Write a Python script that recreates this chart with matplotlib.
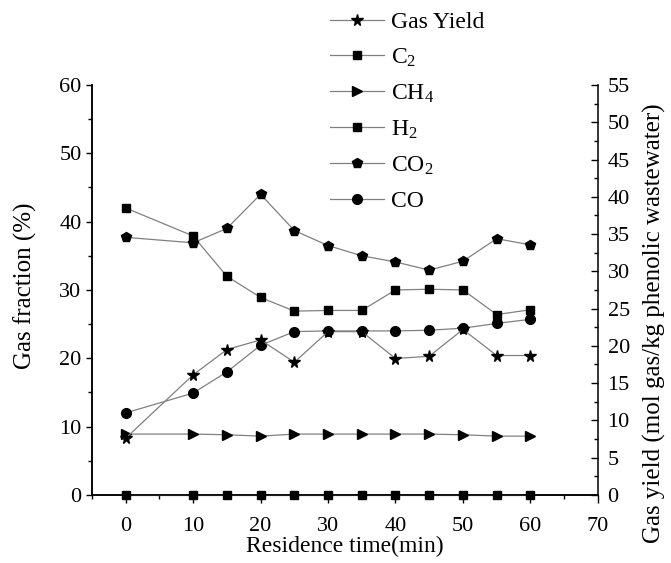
import matplotlib
matplotlib.use("Agg")
import matplotlib.pyplot as plt
from matplotlib.ticker import MultipleLocator

plt.rcParams['font.family'] = ['Liberation Serif', 'DejaVu Serif']
plt.rcParams['mathtext.fontset'] = 'custom'
plt.rcParams['mathtext.rm'] = 'Liberation Serif'
plt.rcParams['mathtext.it'] = 'Liberation Serif:italic'

time_min = [0, 10, 15, 20, 25, 30, 35, 40, 45, 50, 55, 60]
gas_yield = [7.6, 16.1, 19.5, 20.8, 17.8, 21.9, 21.9, 18.3, 18.6, 22.2, 18.7, 18.7]
c2 = [0, 0, 0, 0, 0, 0, 0, 0, 0, 0, 0, 0]
ch4 = [8.9, 8.9, 8.8, 8.6, 8.9, 8.9, 8.9, 8.9, 8.9, 8.8, 8.6, 8.6]
h2 = [42.0, 37.9, 32.0, 28.9, 26.9, 27.0, 27.0, 30.0, 30.1, 30.0, 26.4, 27.1]
co2 = [37.7, 36.9, 39.0, 44.0, 38.7, 36.5, 35.0, 34.1, 32.9, 34.2, 37.5, 36.6]
co = [12.0, 14.9, 18.0, 21.9, 23.9, 24.0, 24.0, 24.0, 24.1, 24.4, 25.1, 25.7]

labels = ['Gas Yield', 'C$_2$', 'CH$_4$', 'H$_2$', 'CO$_2$', 'CO']

fig = plt.figure(figsize=(6.71, 5.63), dpi=100)
ax = fig.add_axes([0.137, 0.121, 0.754, 0.728])
ax2 = ax.twinx()

lc = '#808080'
lw = 0.9
kw = dict(color=lc, lw=lw, markerfacecolor='black', markeredgecolor='black', clip_on=False)

l_c2, = ax.plot(time_min, c2, marker='s', ms=5.5, zorder=5, **kw)
l_ch4, = ax.plot(time_min, ch4, marker='>', ms=7.5, **kw)
l_h2, = ax.plot(time_min, h2, marker='s', ms=6, **kw)
l_co2, = ax.plot(time_min, co2, marker='p', ms=7.5, **kw)
l_co, = ax.plot(time_min, co, marker='o', ms=7, **kw)
l_gy, = ax2.plot(time_min, gas_yield, marker='*', ms=8.5, **kw)

ax.set_xlim(-5, 70)
ax.set_ylim(0, 60)
ax2.set_ylim(0, 55)

ax.xaxis.set_major_locator(MultipleLocator(10))
ax.xaxis.set_minor_locator(MultipleLocator(5))
ax.yaxis.set_major_locator(MultipleLocator(10))
ax.yaxis.set_minor_locator(MultipleLocator(5))
ax2.yaxis.set_major_locator(MultipleLocator(5))
ax2.yaxis.set_minor_locator(MultipleLocator(2.5))

for a in (ax, ax2):
    a.spines['top'].set_visible(False)
    for s in a.spines.values():
        s.set_linewidth(1.1)

ax.spines['right'].set_visible(False)

ax.tick_params(axis='x', which='major', direction='out', length=6, width=1.0, labelsize=16, pad=10)
ax.tick_params(axis='x', which='minor', direction='out', length=3, width=1.0)
ax.tick_params(axis='y', which='major', direction='out', length=4.5, width=1.0, labelsize=16, pad=3)
ax.tick_params(axis='y', which='minor', direction='out', length=3, width=1.0)
ax2.tick_params(axis='y', which='major', direction='in', length=5, width=1.0, labelsize=16, pad=7)
ax2.tick_params(axis='y', which='minor', direction='in', length=3, width=1.0)

ax.set_xlabel('Residence time(min)', fontsize=17, labelpad=0)
ax.set_ylabel('Gas fraction (%)', fontsize=18)
ax.yaxis.set_label_coords(-0.108, 0.51)
ax2.set_ylabel('Gas yield (mol gas/kg phenolic wastewater)', fontsize=18)
ax2.yaxis.set_label_coords(1.09, 0.42)

fig.legend([l_gy, l_c2, l_ch4, l_h2, l_co2, l_co], labels,
           loc='upper left', bbox_to_anchor=(330 / 671, 0.98), frameon=False,
           fontsize=17, handlelength=2.3, handletextpad=0.3, labelspacing=0.58,
           borderpad=0, borderaxespad=0)

fig.savefig('out.png', dpi=100)
